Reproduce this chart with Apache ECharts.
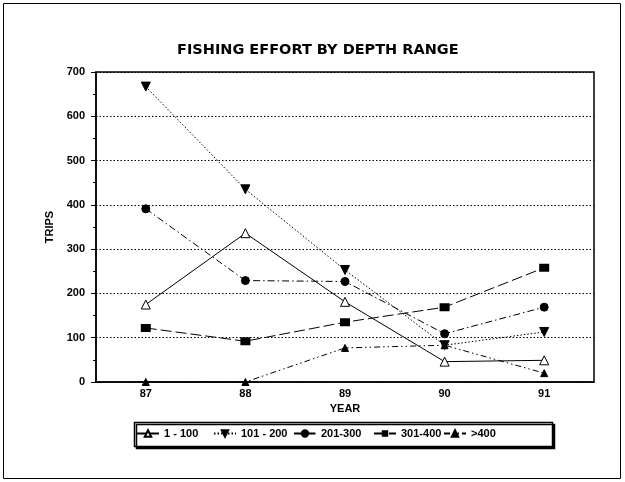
<!DOCTYPE html>
<html>
<head>
<meta charset="utf-8">
<script src="https://cdn.jsdelivr.net/npm/echarts@6/dist/echarts.min.js"></script>
<style>
  html, body { margin: 0; padding: 0; background: #fff; }
  #chart { width: 625px; height: 482px; }
</style>
</head>
<body>
<div id="chart"></div>
<script>
// Fishing trips per year, split by depth range
const years = ['87', '88', '89', '90', '91'];
const depth1to100 = [175, 336, 181, 46, 49];
const depth101to200 = [667, 435, 253, 83, 113];
const depth201to300 = [391, 229, 227, 109, 169];
const depth301to400 = [122, 92, 135, 169, 258];
const depthOver400 = [0, 0, 77, 83, 20];
const seriesNames = ['1 - 100', '101 - 200', '201-300', '301-400', '>400'];
const yTicks = { min: 0, max: 700, interval: 100 };

const FONT = 'Liberation Sans, Arial, sans-serif';

// Hatched square marker: dark box with a light diagonal slash cut out
const hatchedSquare = 'path://M0,0 L10,0 L10,8 L0,8 Z M2,6.5 L6,1.5 L8,1.5 L4,6.5 Z';

function lineSeries(name, data, dash, symbol, size, fill, border) {
  return {
    name: name,
    type: 'line',
    data: data,
    symbol: symbol,
    symbolSize: size,
    showAllSymbol: true,
    lineStyle: { color: '#000', width: 1, type: dash },
    itemStyle: { color: fill, borderColor: '#000', borderWidth: border },
    emphasis: { disabled: true },
    z: 3
  };
}

// One legend entry per series, laid out in a single framed row
const legendLefts = [136, 213, 293, 373, 443];
const legends = seriesNames.map((name, i) => ({
  data: [name],
  left: legendLefts[i],
  top: 428,
  padding: 0,
  itemWidth: 22,
  itemHeight: 8,
  selectedMode: false,
  textStyle: { fontFamily: FONT, fontWeight: 'bold', fontSize: 11, color: '#000' },
  z: 5
}));

const chart = echarts.init(document.getElementById('chart'), null, { renderer: 'canvas' });

chart.setOption({
  animation: false,
  backgroundColor: '#fff',
  title: {
    text: 'FISHING EFFORT BY DEPTH RANGE',
    left: 177,
    top: 43,
    padding: 0,
    textStyle: { fontFamily: 'DejaVu Sans, sans-serif', fontWeight: 'bold', fontSize: 14.5, color: '#000' }
  },
  grid: { left: 96, right: 31, top: 72, bottom: 100, show: true, borderColor: '#000', borderWidth: 1.5 },
  xAxis: {
    type: 'category',
    data: years,
    boundaryGap: true,
    name: 'YEAR',
    nameLocation: 'middle',
    nameGap: 19,
    nameTextStyle: { fontFamily: FONT, fontWeight: 'bold', fontSize: 11, color: '#000' },
    axisLine: { lineStyle: { color: '#000', width: 1.5 } },
    axisTick: { alignWithLabel: true, length: 5, lineStyle: { color: '#000' } },
    axisLabel: { fontFamily: FONT, fontWeight: 'bold', fontSize: 11, color: '#000', margin: 6 },
    splitLine: { show: false }
  },
  yAxis: {
    type: 'value',
    min: yTicks.min,
    max: yTicks.max,
    interval: yTicks.interval,
    name: 'TRIPS',
    nameLocation: 'middle',
    nameGap: 37,
    nameTextStyle: { fontFamily: FONT, fontWeight: 'bold', fontSize: 11, color: '#000' },
    axisLine: { show: true, lineStyle: { color: '#000', width: 1.5 } },
    axisTick: { show: true, length: 5, lineStyle: { color: '#000' } },
    minorTick: { show: true, splitNumber: 2, length: 3, lineStyle: { color: '#000' } },
    axisLabel: { fontFamily: FONT, fontWeight: 'bold', fontSize: 11, color: '#000', margin: 11 },
    splitLine: { show: true, lineStyle: { color: '#000', width: 1, type: [1.5, 2] } }
  },
  legend: legends,
  graphic: [
    {
      type: 'rect',
      shape: { x: 3.5, y: 3.5, width: 617, height: 475 },
      style: { fill: 'none', stroke: '#000', lineWidth: 1 },
      silent: true,
      z: -1
    },
    {
      // legend frame with a hard drop shadow
      type: 'rect',
      shape: { x: 134.5, y: 422.5, width: 418, height: 24 },
      style: { fill: '#fff', stroke: '#000', lineWidth: 1.5, shadowColor: '#000', shadowBlur: 0, shadowOffsetX: 2, shadowOffsetY: 2 },
      silent: true,
      z: 1
    }
  ],
  series: [
    lineSeries(seriesNames[0], depth1to100, 'solid', 'triangle', 9, '#fff', 1),
    lineSeries(seriesNames[1], depth101to200, [1.5, 2], 'path://M0,0 L10,0 L5,9 Z', 9, '#000', 1),
    lineSeries(seriesNames[2], depth201to300, [7, 3, 1.5, 3], 'circle', 8, '#000', 1),
    lineSeries(seriesNames[3], depth301to400, [11, 4], hatchedSquare, [10, 8], '#000', 0),
    lineSeries(seriesNames[4], depthOver400, [6, 3, 1.5, 3, 1.5, 3], 'triangle', 7, '#000', 1)
  ]
});
</script>
</body>
</html>
